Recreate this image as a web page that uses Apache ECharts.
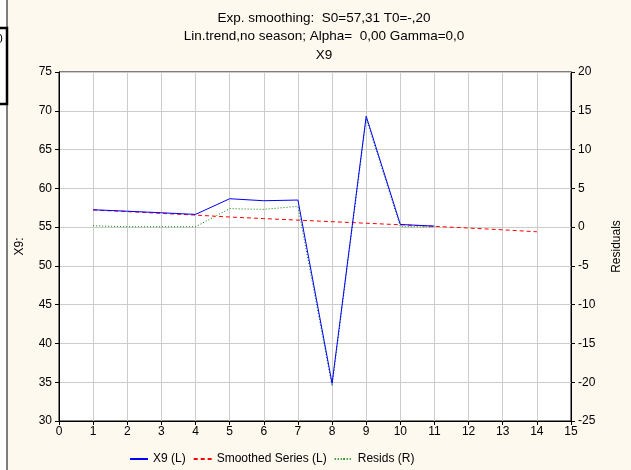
<!DOCTYPE html>
<html><head><meta charset="utf-8">
<script src="https://cdn.jsdelivr.net/npm/echarts@6/dist/echarts.min.js"></script>
<style>html,body{margin:0;padding:0;background:#fdf9ef;}#c{width:631px;height:470px;}</style>
</head><body><div id="c"></div>
<script>
const caseNo = [1,2,3,4,5,6,7,8,9,10,11,12,13,14];
const x9 = [57.24,57.05,56.85,56.64,58.66,58.40,58.49,34.85,69.30,55.34,55.13];
const smoothed = [57.20,57.00,56.77,56.55,56.30,56.10,55.90,55.70,55.50,55.30,55.10,54.88,54.65,54.40];
const resids = [0.17,0.05,0.05,0.05,2.38,2.29,2.68,-20.5,14.0,0.05,0.03];
const leftTicks = [30,75,5];
const rightTicks = [-25,20,5];
const titleLines = ['Exp. smoothing:  S0=57,31 T0=-,20','Lin.trend,no season; Alpha=  0,00 Gamma=0,0','X9'];

const pairs = (vals) => vals.map((v,i)=>[caseNo[i], v]);
const font = 'Liberation Sans, Arial, sans-serif';
const chart = echarts.init(document.getElementById('c'));
chart.setOption({
  backgroundColor: '#fdf9ef',
  animation: false,
  textStyle: {fontFamily: font},
  title: {
    text: titleLines.join('\n'), left: 319, textAlign: 'center', top: 4,
    textStyle: {fontFamily: font, fontSize: 13.5, fontWeight: 'normal', color: '#000', lineHeight: 18.5}
  },
  graphic: [
    {type:'rect', shape:{x:0,y:0,width:7,height:470}, style:{fill:'#fff'}, z:-1},
    {type:'line', shape:{x1:7,y1:0,x2:7,y2:470}, style:{stroke:'#000', lineWidth:1}},
    {type:'rect', shape:{x:-10,y:28,width:17,height:76}, style:{fill:'#fff', stroke:'#000', lineWidth:2.5}},
    {type:'text', x:-4, y:34, style:{text:'0', font:'12px Liberation Sans', fill:'#000'}}
  ],
  legend: {
    bottom: 0, left: 124,
    itemWidth: 18, itemHeight: 2, itemGap: 7,
    textStyle: {fontFamily: font, fontSize: 12, color: '#000'},
    data: ['X9 (L)','Smoothed Series (L)','Resids (R)']
  },
  grid: {left: 59, right: 57, top: 72, bottom: 49, show: true, backgroundColor: '#fff', borderColor: '#000', borderWidth: 1},
  xAxis: {
    type: 'value', min: 0, max: 15, interval: 1,
    axisLine: {show: true, onZero: false, lineStyle: {color: '#000'}},
    axisTick: {show: true, length: 4, lineStyle: {color: '#000'}},
    axisLabel: {color: '#000', fontSize: 12, margin: 5, fontFamily: font},
    splitLine: {show: true, lineStyle: {color: '#cccccc'}}
  },
  yAxis: [
    {type: 'value', min: leftTicks[0], max: leftTicks[1], interval: leftTicks[2], position: 'left',
     name: 'X9:', nameLocation: 'middle', nameGap: 33,
     nameTextStyle: {color: '#000', fontSize: 12, fontFamily: font},
     axisLine: {show: true, lineStyle: {color: '#000'}},
     axisTick: {show: true, length: 4, lineStyle: {color: '#000'}},
     axisLabel: {color: '#000', fontSize: 12, margin: 7, fontFamily: font},
     splitLine: {show: true, lineStyle: {color: '#cccccc'}}},
    {type: 'value', min: rightTicks[0], max: rightTicks[1], interval: rightTicks[2], position: 'right',
     name: 'Residuals', nameLocation: 'middle', nameGap: 40,
     nameTextStyle: {color: '#000', fontSize: 12, fontFamily: font},
     axisLine: {show: true, lineStyle: {color: '#000'}},
     axisTick: {show: true, length: 4, lineStyle: {color: '#000'}},
     axisLabel: {color: '#000', fontSize: 12, margin: 7, fontFamily: font},
     splitLine: {show: false}}
  ],
  series: [
    {name: 'X9 (L)', type: 'line', yAxisIndex: 0, data: pairs(x9), symbol: 'none', z: 4,
     lineStyle: {color: '#0000ff', width: 1}, itemStyle: {color: '#0000ff'}},
    {name: 'Smoothed Series (L)', type: 'line', yAxisIndex: 0, data: pairs(smoothed), symbol: 'none', z: 3,
     lineStyle: {color: '#ff0000', width: 1, type: [4,3]}, itemStyle: {color: '#ff0000'}},
    {name: 'Resids (R)', type: 'line', yAxisIndex: 1, data: pairs(resids), symbol: 'none', z: 2,
     lineStyle: {color: '#008000', width: 1, type: [1,2]}, itemStyle: {color: '#008000'}}
  ]
});
</script></body></html>
